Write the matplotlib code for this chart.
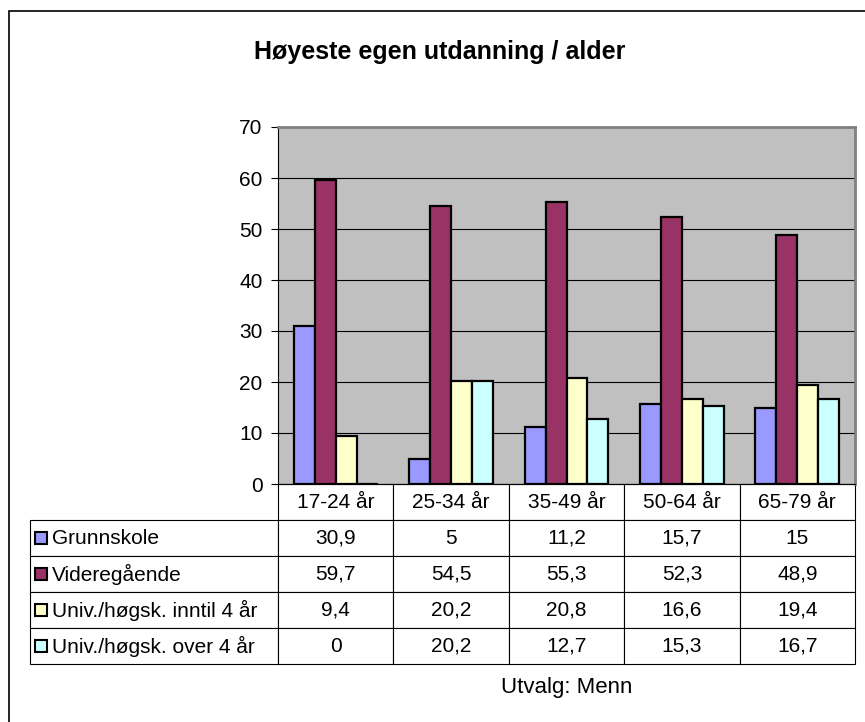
import numpy as np
import matplotlib
matplotlib.use('Agg')
import matplotlib.pyplot as plt
from matplotlib.table import Table
from matplotlib.patches import Rectangle

plt.rcParams['font.family'] = ['Liberation Sans', 'DejaVu Sans']

categories = ['17-24 år', '25-34 år', '35-49 år', '50-64 år', '65-79 år']
series_names = ['Grunnskole', 'Videregående', 'Univ./høgsk. inntil 4 år', 'Univ./høgsk. over 4 år']
grunnskole = [30.9, 5, 11.2, 15.7, 15]
videregaende = [59.7, 54.5, 55.3, 52.3, 48.9]
univ_inntil4 = [9.4, 20.2, 20.8, 16.6, 19.4]
univ_over4 = [0, 20.2, 12.7, 15.3, 16.7]
colors = ['#9999FF', '#993366', '#FFFFCC', '#CCFFFF']
yticks = [0, 10, 20, 30, 40, 50, 60, 70]

series = [grunnskole, videregaende, univ_inntil4, univ_over4]

W, H = 865, 722
fig = plt.figure(figsize=(W / 100, H / 100), dpi=100)

# plot area in pixels
px_l, px_r, px_t, px_b = 278, 855, 127, 484
pw, ph = px_r - px_l, px_b - px_t
ax = fig.add_axes([px_l / W, 1 - px_b / H, pw / W, ph / H])
ax.set_facecolor('#C0C0C0')

x = np.arange(len(categories))
bw = 1 / 5.5
for i, (vals, c) in enumerate(zip(series, colors)):
    ax.bar(x + (i - 1.5) * bw, vals, width=bw, color=c, edgecolor='black',
           linewidth=1.6, zorder=3)

ax.set_xlim(-0.5, len(categories) - 0.5)
ax.set_ylim(0, 70)
ax.set_yticks(yticks)
ax.set_yticklabels([str(t) for t in yticks], fontsize=15)
ax.set_xticks([])
ax.yaxis.grid(True, color='black', linewidth=0.8, zorder=1)
ax.tick_params(axis='y', direction='out', length=5, width=0.8, pad=6)
ax.spines['left'].set_color('black')
ax.spines['bottom'].set_color('black')
ax.spines['top'].set_color('#808080')
ax.spines['right'].set_color('#808080')
ax.spines['top'].set_linewidth(2)
ax.spines['right'].set_linewidth(2)

# data table below the plot (units: axes fraction)
tb_l, tb_b = 30, 664
tb_h = (tb_b - px_b) / ph
row_h = tb_h / 5
label_w = (px_l - tb_l) / pw
col_w = 1 / len(categories)
tb = Table(ax, bbox=[0, -tb_h, 1, tb_h])
for j, cat in enumerate(categories):
    tb.add_cell(0, j, width=col_w, height=row_h, text=cat, loc='center')
for r, (name, vals) in enumerate(zip(series_names, series), start=1):
    cell = tb.add_cell(r, -1, width=label_w, height=row_h, text=name, loc='left')
    cell.PAD = 0.09
    for j, v in enumerate(vals):
        tb.add_cell(r, j, width=col_w, height=row_h,
                    text=f'{v:g}'.replace('.', ','), loc='center')
tb.auto_set_font_size(False)
tb.set_fontsize(15)
for cell in tb.get_celld().values():
    cell.set_linewidth(0.8)
    cell.set_edgecolor('black')
ax.add_table(tb)

# legend keys in the row label cells
sq = 12
for r, c in enumerate(colors, start=1):
    yc = px_b + (tb_b - px_b) / 5 * (r + 0.5)
    ax.add_patch(Rectangle(((35 - px_l) / pw, -(yc - px_b + sq / 2) / ph),
                           sq / pw, sq / ph, transform=ax.transAxes,
                           facecolor=c, edgecolor='black', linewidth=1.5,
                           clip_on=False, zorder=5))

fig.text(440 / W, 1 - 52 / H, 'Høyeste egen utdanning / alder',
         ha='center', va='center', fontsize=18, fontweight='bold')
fig.text(567 / W, 1 - 688 / H, 'Utvalg: Menn', ha='center', va='center',
         fontsize=16)

# outer chart border
fig.patches.append(Rectangle((9 / W, -0.1), 1.2, 1.1 - 11 / H,
                             transform=fig.transFigure, fill=False,
                             edgecolor='black', linewidth=1.2))

fig.savefig('out.png', dpi=100)
